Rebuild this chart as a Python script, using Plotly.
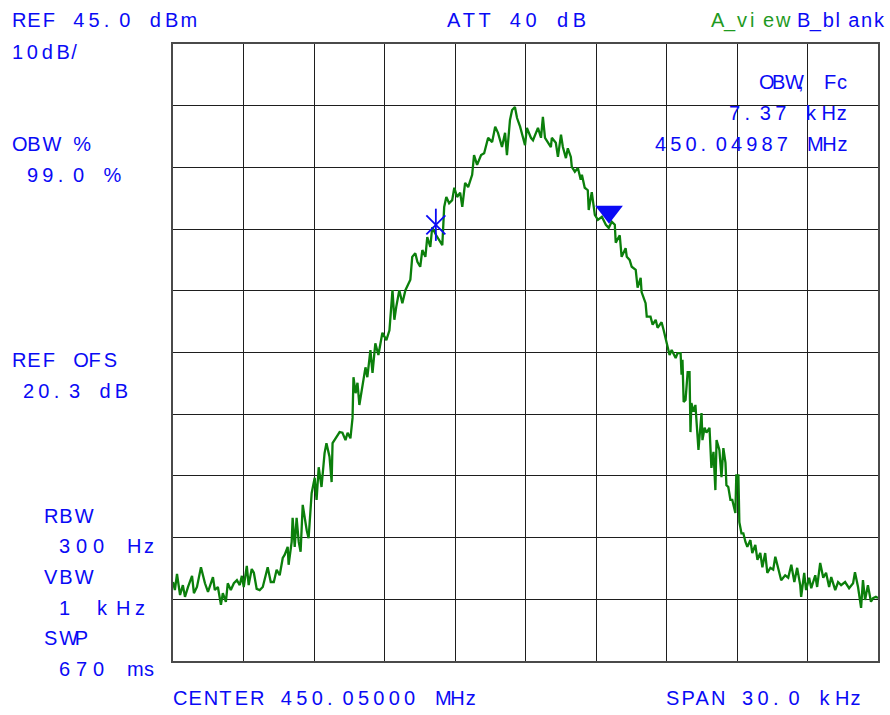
import plotly.graph_objects as go

# ---------------- instrument settings ----------------
CENTER_MHZ = 450.05000
SPAN_KHZ = 30.0
REF_DBM = 45.0
DB_PER_DIV = 10
ATT_DB = 40
OBW_PCT = 99.0
OBW_KHZ = 7.37
FC_MHZ = 450.04987
REF_OFS_DB = 20.3
RBW_HZ = 300
VBW_KHZ = 1
SWP_MS = 670

# ---------------- trace data (frequency offset from centre, kHz / level, dBm) ----------------
freq_offset_khz = [
    -15.00, -14.92, -14.83, -14.70, -14.58, -14.49, -14.36, -14.19, -14.11, -13.98,
    -13.81, -13.64, -13.51, -13.30, -13.22, -13.09, -12.96, -12.88, -12.75, -12.67,
    -12.54, -12.41, -12.28, -12.16, -12.07, -11.99, -11.86, -11.78, -11.65, -11.56,
    -11.44, -11.31, -11.18, -11.05, -10.97, -10.84, -10.71, -10.59, -10.46, -10.33,
    -10.25, -10.12, -10.08, -9.95, -9.91, -9.82, -9.74, -9.65, -9.57, -9.48,
    -9.40, -9.31, -9.23, -9.10, -8.97, -8.89, -8.80, -8.68, -8.55, -8.47,
    -8.34, -8.25, -8.21, -8.04, -7.91, -7.79, -7.66, -7.57, -7.45, -7.36,
    -7.32, -7.23, -7.15, -7.07, -6.94, -6.81, -6.73, -6.60, -6.51, -6.39,
    -6.26, -6.09, -5.92, -5.79, -5.66, -5.58, -5.50, -5.37, -5.24, -5.11,
    -4.90, -4.82, -4.69, -4.60, -4.48, -4.39, -4.26, -4.18, -4.05, -3.97,
    -3.80, -3.67, -3.54, -3.46, -3.37, -3.25, -3.12, -3.03, -2.91, -2.78,
    -2.69, -2.57, -2.44, -2.27, -2.19, -2.06, -1.89, -1.76, -1.68, -1.59,
    -1.42, -1.29, -1.17, -1.00, -0.87, -0.79, -0.66, -0.57, -0.45, -0.36,
    -0.23, -0.15, -0.02, 0.06, 0.23, 0.32, 0.45, 0.53, 0.66, 0.74,
    0.83, 0.95, 1.08, 1.12, 1.29, 1.38, 1.51, 1.59, 1.72, 1.80,
    1.93, 1.97, 2.10, 2.23, 2.35, 2.40, 2.52, 2.65, 2.69, 2.82,
    2.95, 3.08, 3.25, 3.42, 3.54, 3.67, 3.80, 3.84, 4.01, 4.09,
    4.26, 4.31, 4.43, 4.52, 4.69, 4.77, 4.90, 4.94, 5.11, 5.16,
    5.32, 5.41, 5.54, 5.62, 5.79, 5.88, 6.00, 6.13, 6.22, 6.39,
    6.47, 6.60, 6.64, 6.68, 6.73, 6.81, 6.90, 6.98, 7.02, 7.06,
    7.15, 7.23, 7.36, 7.49, 7.53, 7.62, 7.70, 7.83, 7.91, 8.00,
    8.08, 8.13, 8.25, 8.34, 8.42, 8.51, 8.55, 8.63, 8.72, 8.80,
    8.93, 8.97, 9.06, 9.10, 9.19, 9.27, 9.36, 9.44, 9.57, 9.65,
    9.78, 9.87, 9.99, 10.08, 10.20, 10.29, 10.42, 10.54, 10.63, 10.76,
    10.88, 11.05, 11.18, 11.31, 11.44, 11.56, 11.69, 11.73, 11.86, 11.94,
    12.07, 12.16, 12.33, 12.41, 12.54, 12.67, 12.79, 12.92, 13.01, 13.18,
    13.30, 13.43, 13.60, 13.77, 13.94, 14.02, 14.15, 14.28, 14.36, 14.45,
    14.57, 14.70, 14.79, 14.91, 15.00,
]
level_dbm = [
    -42.2, -43.5, -40.9, -44.3, -42.7, -44.6, -43.0, -41.2, -44.0, -43.0,
    -39.8, -42.4, -43.8, -41.4, -43.5, -43.0, -45.9, -44.0, -45.4, -42.4,
    -43.5, -42.4, -41.9, -42.7, -41.2, -43.0, -39.6, -42.7, -40.1, -40.7,
    -43.3, -43.5, -43.0, -40.7, -39.8, -42.2, -42.2, -40.2, -41.1, -38.3,
    -37.8, -36.5, -39.4, -35.7, -31.8, -36.5, -31.8, -35.7, -37.3, -29.7,
    -31.7, -33.8, -35.1, -27.8, -25.3, -28.9, -23.6, -26.8, -21.3, -19.7,
    -21.9, -26.0, -19.7, -18.7, -17.9, -18.0, -19.2, -18.0, -18.9, -15.6,
    -9.0, -11.6, -9.9, -13.5, -10.3, -7.4, -9.0, -4.6, -8.3, -3.5,
    -5.4, -1.8, -3.0, -1.4, 5.1, 0.3, 2.4, 5.1, 3.0, 5.1,
    6.8, 10.5, 11.1, 9.7, 8.9, 11.6, 10.5, 13.7, 12.1, 15.3,
    14.0, 13.2, 12.4, 18.6, 20.2, 19.2, 19.7, 21.7, 20.2, 20.9,
    18.6, 22.5, 21.8, 23.8, 27.0, 25.4, 27.0, 27.3, 28.3, 29.8,
    29.1, 31.6, 30.6, 28.3, 30.6, 27.0, 32.7, 34.3, 34.8, 33.0,
    31.6, 30.3, 28.6, 31.4, 29.8, 29.4, 30.6, 31.4, 29.8, 33.2,
    29.8, 29.1, 28.3, 29.8, 29.0, 26.7, 30.3, 28.3, 26.5, 28.1,
    26.7, 25.1, 24.3, 24.9, 23.0, 23.8, 21.7, 21.3, 18.1, 21.0,
    17.3, 16.5, 17.0, 15.7, 15.2, 16.2, 15.7, 12.8, 14.0, 10.5,
    11.9, 10.5, 10.0, 8.9, 8.4, 5.5, 7.1, 4.8, 3.0, 0.8,
    0.8, -0.5, 0.3, -1.0, -0.1, -1.4, -3.5, -5.4, -4.6, -5.9,
    -5.1, -5.1, -8.6, -6.2, -13.0, -12.7, -8.2, -8.2, -17.9, -13.2,
    -14.6, -13.5, -20.8, -14.8, -19.2, -17.2, -18.0, -17.2, -23.7, -21.1,
    -27.3, -19.2, -20.8, -25.2, -20.5, -22.9, -26.5, -26.8, -28.9, -28.9,
    -31.0, -24.9, -24.9, -32.5, -34.3, -34.3, -35.7, -36.5, -35.4, -37.5,
    -36.2, -38.6, -37.5, -39.8, -37.5, -40.7, -39.9, -40.2, -38.1, -39.9,
    -41.9, -41.1, -41.5, -39.4, -42.2, -39.9, -42.7, -44.6, -40.7, -43.5,
    -41.5, -43.2, -41.1, -43.0, -39.1, -41.5, -40.7, -43.0, -41.4, -43.5,
    -42.2, -42.7, -42.2, -43.2, -42.4, -40.6, -43.0, -46.4, -41.9, -45.1,
    -42.7, -45.4, -44.8, -44.6, -44.8,
]
# OBW edge marker levels (dBm): lower edge (asterisk), upper edge (triangle)
marker_levels_dbm = [15.7, 17.8]

# ---------------- styling ----------------
W, H = 890, 715
L, R, T, B = 173, 10, 44, 54
PW, PH = W - L - R, H - T - B
BLUE = "#0a0af5"
GREEN_TXT = "#1f9a1f"
TRACE = "#0b7f0b"
FONT = "Liberation Sans, Arial, sans-serif"
FSIZE = 20

ADV = {  # Arial advance widths (1/1000 em)
    " ": 278, "%": 889, ",": 278, ".": 278, "/": 278, "_": 556,
    "A": 667, "B": 667, "C": 722, "E": 667, "F": 611, "H": 722, "M": 833,
    "N": 722, "O": 778, "P": 667, "R": 722, "S": 667, "T": 611, "V": 667,
    "W": 944, "a": 556, "b": 556, "c": 500, "d": 556, "e": 556, "i": 222,
    "k": 500, "l": 222, "m": 833, "n": 556, "s": 500, "v": 500, "w": 722,
    "z": 500,
}


def cells(s, pitch=15.3, size=FSIZE):
    """Lay out text on a fixed character pitch like the analyser's screen font."""
    out = []
    for i, ch in enumerate(s):
        adv = ADV.get(ch, 556) / 1000.0 * size
        ls = 0 if i == len(s) - 1 else pitch - adv
        out.append("<span style='letter-spacing:%.2fpx'>%s</span>" % (ls, ch))
    return "".join(out)


fig = go.Figure()
fig.add_trace(go.Scatter(
    x=freq_offset_khz, y=level_dbm, mode="lines",
    line=dict(color=TRACE, width=2.3), hoverinfo="skip", showlegend=False,
))

fc_off_khz = (FC_MHZ - CENTER_MHZ) * 1000.0
lo_khz = fc_off_khz - OBW_KHZ / 2
hi_khz = fc_off_khz + OBW_KHZ / 2

fig.add_trace(go.Scatter(
    x=[lo_khz], y=[marker_levels_dbm[0]], mode="markers",
    marker=dict(symbol="x-thin-open", size=19, color=BLUE,
                line=dict(color=BLUE, width=1.8)),
    hoverinfo="skip", showlegend=False,
))
fig.add_trace(go.Scatter(
    x=[lo_khz], y=[marker_levels_dbm[0]], mode="markers",
    marker=dict(symbol="line-ns-open", size=23, color=BLUE,
                line=dict(color=BLUE, width=1.8)),
    hoverinfo="skip", showlegend=False,
))
fig.add_trace(go.Scatter(
    x=[hi_khz], y=[marker_levels_dbm[1]], mode="markers",
    marker=dict(symbol="triangle-down", size=24, color=BLUE, line=dict(width=0)),
    hoverinfo="skip", showlegend=False,
))


def px(xp):
    return (xp - L) / PW


def py(yp):
    return (H - B - yp) / PH


texts = [
    # text, x px, y px, anchor, color, pitch
    ("REF %.1f dBm" % REF_DBM, 11, 20, "left", BLUE, 15.3),
    ("%ddB/" % DB_PER_DIV, 11, 52, "left", BLUE, 14.8),
    ("OBW %", 11, 144, "left", BLUE, 15.3),
    ("%.1f %%" % OBW_PCT, 26, 175, "left", BLUE, 15.3),
    ("REF OFS", 11, 360, "left", BLUE, 15.3),
    ("%.1f dB" % REF_OFS_DB, 22, 391, "left", BLUE, 15.3),
    ("RBW", 43, 516, "left", BLUE, 15.3),
    ("%d Hz" % RBW_HZ, 58, 546, "left", BLUE, 17.0),
    ("VBW", 43, 577, "left", BLUE, 15.3),
    ("%d kHz" % VBW_KHZ, 58, 608, "left", BLUE, 19.0),
    ("SWP", 43, 638, "left", BLUE, 15.3),
    ("%d ms" % SWP_MS, 58, 669, "left", BLUE, 17.0),
    ("ATT %d dB" % ATT_DB, 447, 20, "left", BLUE, 15.7),
    ("A_view", 712, 20, "left", GREEN_TXT, 13.0),
    ("B_blank", 888, 20, "right", BLUE, 12.8),
    ("OBW, Fc", 850, 82, "right", BLUE, 13.0),
    ("%.2f kHz" % OBW_KHZ, 850, 113, "right", BLUE, 15.4),
    ("%.5f MHz" % FC_MHZ, 850, 144, "right", BLUE, 15.2),
    ("CENTER %.5f MHz" % CENTER_MHZ, 172, 698, "left", BLUE, 15.4),
    ("SPAN %.1f kHz" % SPAN_KHZ, 666, 698, "left", BLUE, 15.5),
]

annotations = []
for s, xp, yp, anc, col, pitch in texts:
    annotations.append(dict(
        text=cells(s, pitch), x=px(xp), y=py(yp), xref="paper", yref="paper",
        xanchor=anc, yanchor="middle", showarrow=False,
        font=dict(family=FONT, size=FSIZE, color=col), borderpad=0,
    ))

axis_common = dict(
    showgrid=True, gridcolor="#1e1e1e", gridwidth=1,
    showline=True, mirror=True, linecolor="#4a4a4a", linewidth=1.5,
    zeroline=False, showticklabels=False, ticks="", fixedrange=True,
)

fig.update_layout(
    width=W, height=H, autosize=False,
    margin=dict(l=L, r=R, t=T, b=B, pad=0),
    paper_bgcolor="white", plot_bgcolor="white",
    xaxis=dict(range=[-SPAN_KHZ / 2, SPAN_KHZ / 2], tick0=-SPAN_KHZ / 2,
               dtick=SPAN_KHZ / 10, **axis_common),
    yaxis=dict(range=[REF_DBM - 10 * DB_PER_DIV, REF_DBM], tick0=REF_DBM,
               dtick=DB_PER_DIV, **axis_common),
    annotations=annotations,
    showlegend=False,
)

fig.write_html("out.html", config={"displayModeBar": False},
               post_script="document.body.style.margin='0';")
